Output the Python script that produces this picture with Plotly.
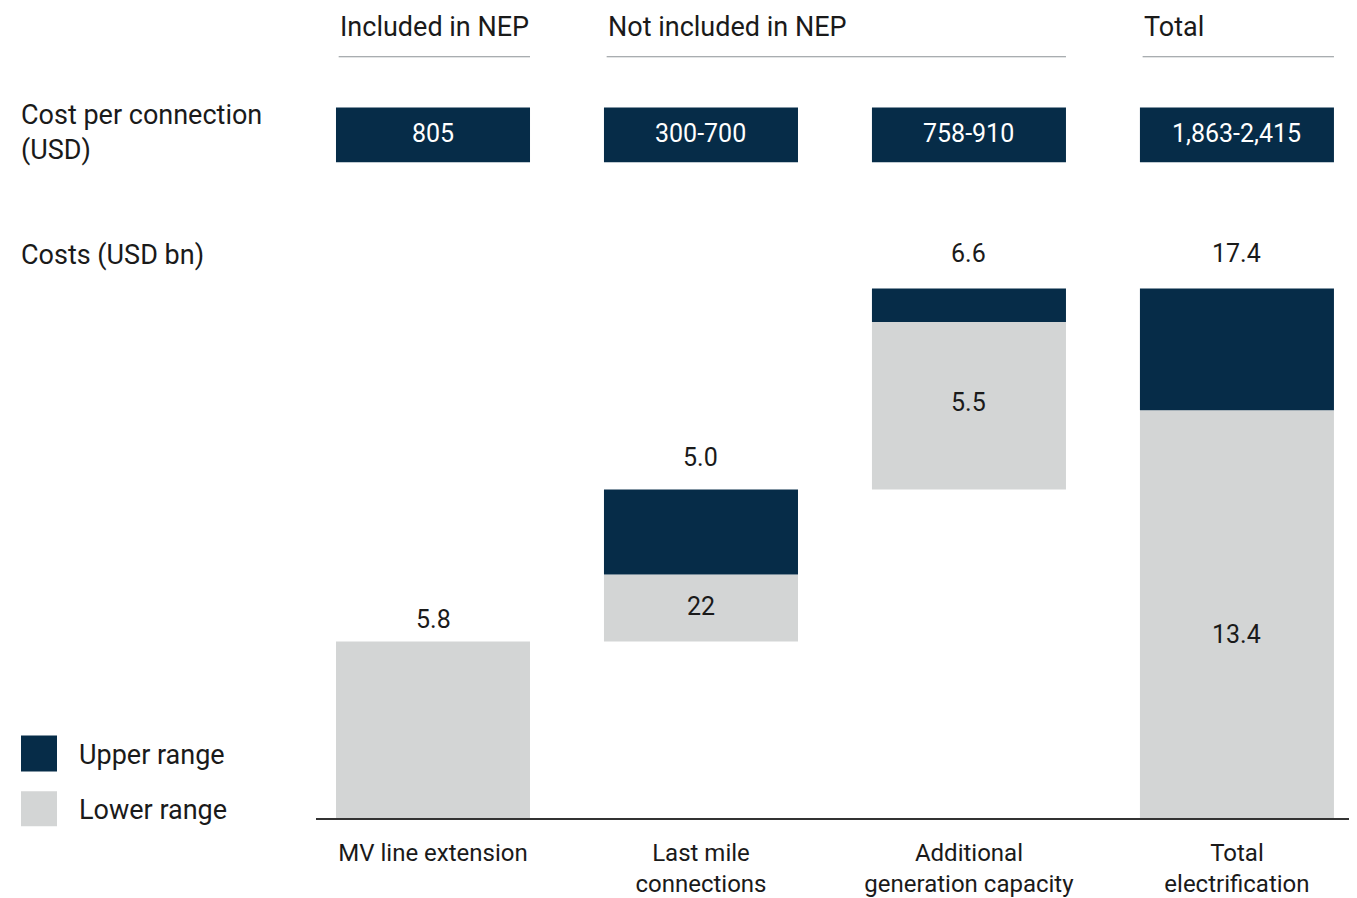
import plotly.graph_objects as go

# data
categories = ["MV line extension", "Last mile<br>connections",
              "Additional<br>generation capacity", "Total<br>electrification"]
lower_range = [5.8, 2.2, 5.5, 13.4]
totals = [5.8, 5.0, 6.6, 17.4]
total_labels = ["5.8", "5.0", "6.6", "17.4"]
inner_labels = ["", "22", "5.5", "13.4"]
cost_per_connection = ["805", "300-700", "758-910", "1,863-2,415"]
groups = ["Included in NEP", "Not included in NEP", "Total"]
group_span = [(0, 0), (1, 2), (3, 3)]

NAVY = "#062c48"
GREY = "#d3d5d5"
TXT = "#1a1a1a"
FONT = "Roboto, 'Noto Sans', sans-serif"

# figure sits 8px into the page; the snapshot comes out ~1% squeezed vertically
W, H = 1349, 890
ML = 308
VSCALE = 0.99
AXIS_PAGE = 822


def fy(p):
    # page y pixel -> figure y pixel
    return (p - 8) / VSCALE


PLOT_BOTTOM = round(fy(AXIS_PAGE))
MB = H - PLOT_BOTTOM
PLOT_W = W - ML
PLOT_H = PLOT_BOTTOM
PX_PER_UNIT = 30.57 / VSCALE


def px(p):
    # page x pixel -> paper x
    return (p - 8 - ML) / PLOT_W


def py(p):
    # page y pixel -> paper y
    return (PLOT_BOTTOM - fy(p)) / PLOT_H


upper_range = [round(t - l, 2) for t, l in zip(totals, lower_range)]
# waterfall bases: the first three bars step up, the total starts at zero
base = []
run = 0.0
for t in totals[:-1]:
    base.append(run)
    run += t
base.append(0.0)
upper_base = [b + l for b, l in zip(base, lower_range)]

xs = list(range(len(categories)))
half = 0.362

fig = go.Figure()
fig.add_trace(go.Bar(x=xs, y=lower_range, base=base, width=2 * half,
                     marker=dict(color=GREY, line_width=0), name="Lower range",
                     showlegend=False))
fig.add_trace(go.Bar(x=xs, y=upper_range, base=upper_base, width=2 * half,
                     marker=dict(color=NAVY, line_width=0), name="Upper range",
                     showlegend=False))

# value labels above bars
top_shift = [22, 32, 35, 35]
for i, t in enumerate(totals):
    top = base[i] + t
    fig.add_annotation(x=i, y=top, text=total_labels[i], showarrow=False,
                       yanchor="middle", yshift=top_shift[i],
                       font=dict(size=25, color=TXT))

# labels inside the lower segment
in_shift = [0, 2, 3, -20]
for i, lab in enumerate(inner_labels):
    if lab:
        fig.add_annotation(x=i, y=base[i] + lower_range[i] / 2, text=lab,
                           showarrow=False, yanchor="middle", yshift=in_shift[i],
                           font=dict(size=25, color=TXT))

# cost per connection boxes
for i, c in enumerate(cost_per_connection):
    fig.add_shape(type="rect", xref="x", yref="paper", x0=i - half, x1=i + half,
                  y0=py(163), y1=py(108), fillcolor=NAVY, line_width=0,
                  layer="above")
    fig.add_annotation(x=i, xref="x", y=py(134), yref="paper", text=c,
                       showarrow=False, xanchor="center", yanchor="middle",
                       font=dict(size=25, color="white"))

# group headers with rules
for g, (a, b) in zip(groups, group_span):
    fig.add_annotation(x=a - half, xref="x", y=py(27), yref="paper", text=g,
                       xanchor="left", yanchor="middle", xshift=2,
                       showarrow=False, font=dict(size=27, color=TXT))
    fig.add_shape(type="line", xref="x", yref="paper", x0=a - half + 0.01,
                  x1=b + half, y0=py(57), y1=py(57),
                  line=dict(color="#8c9296", width=1.2))

# row labels on the left
fig.add_annotation(x=px(19), xref="paper", y=py(133), yref="paper",
                   text="Cost per connection<br>(USD)", align="left",
                   xanchor="left", yanchor="middle", showarrow=False,
                   font=dict(size=27, color=TXT))
fig.add_annotation(x=px(19), xref="paper", y=py(256), yref="paper",
                   text="Costs (USD bn)", xanchor="left", yanchor="middle",
                   showarrow=False, font=dict(size=27, color=TXT))

# legend drawn by hand
for name, col, y0, y1 in [("Upper range", NAVY, 739, 775),
                          ("Lower range", GREY, 795, 830)]:
    fig.add_shape(type="rect", xref="paper", yref="paper",
                  x0=px(21), x1=px(57), y0=py(y1), y1=py(y0),
                  fillcolor=col, line_width=0)
    fig.add_annotation(x=px(77), xref="paper", y=py((y0 + y1) / 2 + 1),
                       yref="paper", text=name, xanchor="left",
                       yanchor="middle", showarrow=False,
                       font=dict(size=27, color=TXT))

fig.update_layout(
    width=W, height=H,
    margin=dict(l=ML, r=0, t=0, b=MB),
    plot_bgcolor="white", paper_bgcolor="white",
    font=dict(family=FONT, color=TXT),
    barmode="overlay",
    xaxis=dict(range=[-0.4366, 3.448], tickvals=xs, ticktext=categories,
               showline=True, linecolor="#333333", linewidth=1.5,
               showgrid=False, zeroline=False, ticks="",
               ticklabelstandoff=12,
               tickfont=dict(size=24, color=TXT), fixedrange=True),
    yaxis=dict(range=[0, PLOT_H / PX_PER_UNIT], visible=False,
               fixedrange=True),
)

fig.write_html("out.html")
